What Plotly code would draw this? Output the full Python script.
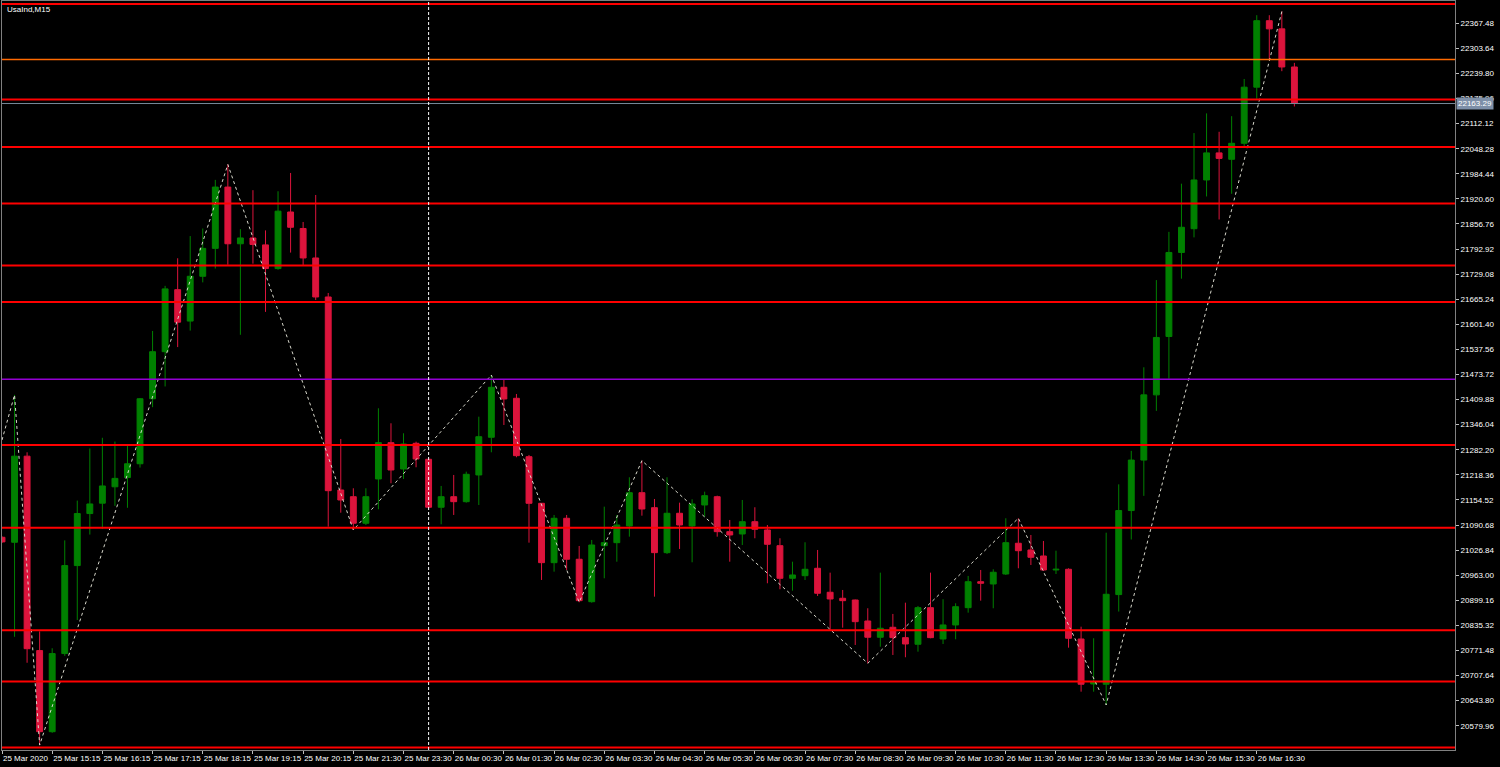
import pandas as pd
import plotly.graph_objects as go

# ---- data ----
seg1 = list(pd.date_range("2020-03-25 14:15", periods=25, freq="15min"))
seg2 = [pd.Timestamp("2020-03-25 " + t) for t in ["20:30", "20:45", "21:15", "21:30", "21:45", "22:00", "23:15"]]
seg3 = list(pd.date_range("2020-03-25 23:30", periods=72, freq="15min"))
times = [t.strftime("%Y-%m-%d %H:%M") for t in seg1 + seg2 + seg3]

open_ = [21059.5, 21046.8, 21265.9, 20771.2, 20564.8, 20763.6, 20987.5, 21119.9, 21146.3, 21188.0,
         21211.5, 21246.6, 21412.0, 21531.8, 21689.6, 21609.7, 21723.7, 21794.7, 21950.7, 21806.4,
         21821.2, 21803.6, 21743.3, 21887.3, 21845.3, 21770.3, 21671.0, 21179.9, 21162.8, 21095.2,
         21207.9, 21300.3, 21233.3, 21298.7, 21258.0, 21135.9, 21162.8, 21150.1, 21218.1, 21314.0,
         21441.2, 21413.2, 21264.6, 21146.0, 20994.9, 21107.9, 21003.6, 20895.6, 21038.2, 21045.8,
         21088.3, 21173.0, 21134.9, 21020.4, 21120.6, 21088.3, 21141.7, 21162.8, 21073.8, 21067.9,
         21099.2, 21078.1, 21038.2, 20955.2, 20961.8, 20980.6, 20919.6, 20904.3, 20899.9, 20846.5,
         20805.1, 20830.5, 20804.1, 20787.3, 20880.4, 20800.7, 20836.4, 20880.4, 20946.5, 20940.7,
         20966.1, 21044.3, 21027.2, 21011.9, 20976.3, 20978.1, 20800.7, 20686.2, 20685.5, 20913.7,
         21127.5, 21256.0, 21421.9, 21570.5, 21784.3, 21844.8, 21968.8, 22037.7, 22021.4, 22062.1,
         22204.9, 22374.1, 22353.3, 22256.3]
high = [21062.0, 21421.9, 21275.8, 20820.1, 20777.1, 21051.6, 21152.9, 21285.5, 21312.7, 21303.1,
        21292.4, 21414.0, 21584.5, 21699.3, 21769.5, 21826.0, 21845.3, 21969.0, 22008.2, 21843.6,
        21942.8, 21840.5, 21940.0, 21986.6, 21861.9, 21930.6, 21681.2, 21309.7, 21184.2, 21184.2,
        21387.8, 21349.6, 21324.2, 21302.8, 21260.6, 21190.1, 21218.1, 21226.5, 21366.4, 21472.5,
        21461.6, 21424.2, 21269.0, 21146.7, 21116.3, 21116.3, 21037.4, 21052.7, 21137.4, 21116.3,
        21212.2, 21254.5, 21157.0, 21212.2, 21147.6, 21156.2, 21175.6, 21165.4, 21103.6, 21154.4,
        21135.9, 21090.8, 21057.0, 20997.4, 21046.8, 21027.2, 20969.5, 20925.4, 20901.0, 20878.9,
        20969.5, 20864.4, 20893.1, 20884.7, 20969.5, 20901.8, 20891.6, 20961.1, 20976.3, 20978.1,
        21107.9, 21107.9, 21065.4, 21050.1, 21025.4, 20980.6, 20832.0, 20802.5, 21071.2, 21194.2,
        21279.4, 21492.1, 21714.0, 21836.7, 21959.3, 22088.1, 22138.2, 22091.4, 22131.1, 22225.8,
        22388.1, 22388.1, 22397.5, 22266.7]
low = [21045.0, 20806.3, 20740.2, 20530.7, 20562.0, 20757.7, 20849.1, 21066.4, 21080.9, 21139.4,
       21134.6, 21236.9, 21390.6, 21443.3, 21543.5, 21585.5, 21708.2, 21743.3, 21753.0, 21574.8,
       21755.8, 21633.1, 21740.2, 21784.0, 21752.5, 21663.4, 21086.5, 21122.1, 21078.1, 21090.8,
       21130.8, 21197.0, 21207.9, 21237.7, 21133.3, 21092.6, 21116.3, 21147.6, 21141.7, 21275.8,
       21345.3, 21263.1, 21045.8, 20950.9, 20972.0, 20976.3, 20894.2, 20893.1, 20955.2, 20997.4,
       21061.1, 21114.5, 20908.4, 21017.0, 21029.8, 20995.9, 21112.0, 21061.1, 20997.4, 21039.9,
       21057.0, 20942.5, 20927.2, 20923.6, 20950.9, 20910.2, 20821.1, 20829.5, 20785.5, 20738.9,
       20781.1, 20760.0, 20754.2, 20768.4, 20802.5, 20788.0, 20800.0, 20867.7, 20898.2, 20878.9,
       20963.6, 20980.6, 20989.0, 20973.8, 20966.1, 20778.6, 20666.6, 20666.6, 20632.8, 20870.5,
       21053.9, 21164.9, 21381.2, 21462.9, 21717.6, 21822.7, 21926.8, 21868.2, 21933.6, 22055.3,
       22175.6, 22274.9, 22245.6, 22155.8]
close = [21047.8, 21265.9, 20776.0, 20564.8, 20763.6, 20987.5, 21119.9, 21144.3, 21190.1, 21209.4,
         21246.6, 21412.0, 21531.8, 21691.6, 21606.9, 21723.7, 21794.7, 21950.7, 21806.4, 21821.2,
         21804.6, 21743.3, 21889.4, 21848.4, 21770.3, 21671.0, 21178.1, 21154.4, 21095.2, 21162.8,
         21300.3, 21230.8, 21297.0, 21258.8, 21135.9, 21162.8, 21150.1, 21219.8, 21315.5, 21441.2,
         21411.5, 21267.2, 21146.0, 20994.9, 21107.9, 21003.6, 20898.2, 21039.9, 21045.8, 21090.8,
         21173.0, 21131.5, 21020.4, 21120.6, 21090.8, 21144.3, 21165.4, 21073.8, 21065.4, 21099.2,
         21079.9, 21041.7, 20955.2, 20963.6, 20978.1, 20917.0, 20902.5, 20898.2, 20844.8, 20805.1,
         20828.0, 20804.1, 20788.0, 20880.4, 20804.1, 20836.4, 20882.9, 20946.5, 20942.5, 20970.5,
         21045.8, 21025.4, 21008.6, 20976.3, 20978.1, 20802.5, 20685.5, 20692.1, 20914.5, 21127.5,
         21256.0, 21421.9, 21568.0, 21784.3, 21848.4, 21968.8, 22037.7, 22023.7, 22062.1, 22204.9,
         22374.1, 22353.3, 22256.3, 22163.29]

# zigzag pivots (bar index, price)
zz_idx = [0, 1, 3, 18, 28, 39, 46, 51, 69, 81, 88, 102]
zz_val = [21307.0, 21421.9, 20530.7, 22008.2, 21078.1, 21472.5, 20894.2, 21254.5,
          20738.9, 21107.9, 20632.8, 22397.5]

# horizontal levels
red_levels = [22416.6, 22173.6, 22052.9, 21909.2, 21751.3, 21658.0, 21294.4,
              21083.9, 20822.8, 20692.6, 20524.6]
orange_level = 22275.4
purple_level = 21461.8
bid_price = 22163.29
vline_bar = 34

# y-axis ticks
y_ticks = [round(22367.48 - 63.84 * k, 2) for k in range(29)]

# ---- figure ----
tick_idx = list(range(0, 104, 4))
tick_text = []
for i in tick_idx:
    t = pd.Timestamp(times[i])
    tick_text.append("25 Mar 2020" if i == 0 else t.strftime("%d %b %H:%M"))

FONT = "Liberation Sans"
fig = go.Figure()
fig.add_trace(go.Candlestick(
    x=times, open=open_, high=high, low=low, close=close,
    increasing=dict(line=dict(color="#008000", width=1), fillcolor="#008000"),
    decreasing=dict(line=dict(color="#DC143C", width=1), fillcolor="#DC143C"),
    whiskerwidth=0, showlegend=False, hoverinfo="skip",
))
fig.add_trace(go.Scatter(
    x=[times[i] for i in zz_idx], y=zz_val, mode="lines",
    line=dict(color="#d8d8cc", width=1, dash="dot"), showlegend=False, hoverinfo="skip",
))

shapes = []
for lv in red_levels:
    shapes.append(dict(type="line", xref="paper", x0=0, x1=1, yref="y", y0=lv, y1=lv,
                       line=dict(color="#FF0000", width=2)))
shapes.append(dict(type="line", xref="paper", x0=0, x1=1, yref="y", y0=orange_level, y1=orange_level,
                   line=dict(color="#FF6A00", width=1.5)))
shapes.append(dict(type="line", xref="paper", x0=0, x1=1, yref="y", y0=purple_level, y1=purple_level,
                   line=dict(color="#9400D3", width=1.5)))
shapes.append(dict(type="line", xref="paper", x0=0, x1=1, yref="y", y0=bid_price, y1=bid_price,
                   line=dict(color="#778899", width=1)))
shapes.append(dict(type="line", xref="x", x0=vline_bar, x1=vline_bar, yref="paper", y0=0, y1=1,
                   line=dict(color="#FFFFFF", width=1, dash="3px,2px")))

fig.update_layout(
    width=1500, height=767,
    margin=dict(l=2, r=45, t=1, b=17, autoexpand=False),
    paper_bgcolor="#000000", plot_bgcolor="#000000",
    font=dict(family=FONT, size=8, color="#FFFFFF"),
    shapes=shapes,
    boxgap=0.33,
    annotations=[
        dict(text="UsaInd,M15", xref="paper", yref="paper", x=0.002, y=0.997,
             xanchor="left", yanchor="top", showarrow=False,
             font=dict(family=FONT, size=8, color="#FFFFFF")),
        dict(text=f"{bid_price:.2f}", xref="paper", yref="y", x=1, y=bid_price,
             xanchor="left", yanchor="middle", xshift=1, showarrow=False,
             bgcolor="#7d8fa8", borderpad=1,
             font=dict(family=FONT, size=8, color="#FFFFFF")),
    ],
)
fig.update_xaxes(
    type="category", range=[0, 115.8], rangeslider=dict(visible=False),
    tickmode="array", tickvals=[times[i] for i in tick_idx], ticktext=tick_text,
    ticks="outside", ticklen=3, tickcolor="#C0C0C0", ticklabelposition="outside right",
    tickangle=0, automargin=False,
    showgrid=False, showline=True, linecolor="#808080", linewidth=1, mirror=True,
    tickfont=dict(family=FONT, size=8, color="#FFFFFF"), zeroline=False,
)
fig.update_yaxes(
    side="right", range=[20518.2, 22424.2], automargin=False,
    tickmode="array", tickvals=y_ticks, ticktext=[f"{v:.2f}" for v in y_ticks],
    ticks="outside", ticklen=3, tickcolor="#C0C0C0",
    showgrid=False, showline=True, linecolor="#808080", linewidth=1, mirror=True,
    tickfont=dict(family=FONT, size=8, color="#FFFFFF"), zeroline=False,
)

fig.write_html("out.html", config={"displayModeBar": False},
               post_script="document.body.style.margin='0';document.body.style.background='#000';")
